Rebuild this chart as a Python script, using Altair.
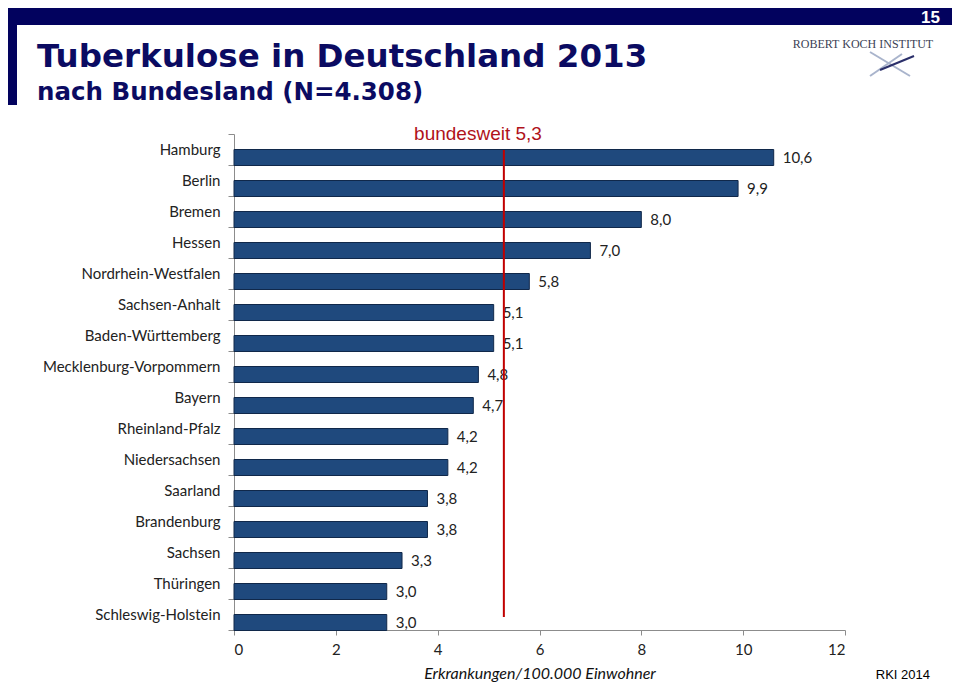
import altair as alt
import pandas as pd

laender = ["Hamburg", "Berlin", "Bremen", "Hessen", "Nordrhein-Westfalen", "Sachsen-Anhalt",
           "Baden-Württemberg", "Mecklenburg-Vorpommern", "Bayern", "Rheinland-Pfalz",
           "Niedersachsen", "Saarland", "Brandenburg", "Sachsen", "Thüringen", "Schleswig-Holstein"]
inzidenz = [10.6, 9.9, 8.0, 7.0, 5.8, 5.1, 5.1, 4.8, 4.7, 4.2, 4.2, 3.8, 3.8, 3.3, 3.0, 3.0]
bundesweit = 5.3
x_ticks = [0, 2, 4, 6, 8, 10, 12]

df = pd.DataFrame({"land": laender, "wert": inzidenz})
df["label"] = [f"{v:.1f}".replace(".", ",") for v in inzidenz]

W, H = 611, 496
FONT = "Lato"
NAVY = "#0b0b62"

y_enc = alt.Y("land:N", sort=None, title=None,
              scale=alt.Scale(paddingInner=0, paddingOuter=0),
              axis=alt.Axis(tickBand="extent", labelFont=FONT, labelFontSize=15,
                            labelColor="#222222", domainColor="#8c8c8c", tickColor="#8c8c8c",
                            tickSize=6, labelPadding=8, labelLimit=300))
x_enc = alt.X("wert:Q", title="Erkrankungen/100.000 Einwohner",
              scale=alt.Scale(domain=[0, 12], nice=False),
              axis=alt.Axis(values=x_ticks, grid=False, labelFont=FONT, labelFontSize=15,
                            labelColor="#222222", domainColor="#8c8c8c", tickColor="#8c8c8c",
                            tickSize=5, labelPadding=7, titleFont=FONT, titleFontSize=16,
                            titleFontStyle="italic", titleFontWeight="normal",
                            titleColor="#111111", titlePadding=8))

bars = alt.Chart(df).mark_bar(size=16, yOffset=8, color="#1f497d",
                              stroke="#10284a", strokeWidth=1).encode(x=x_enc, y=y_enc)

values = alt.Chart(df).mark_text(align="left", baseline="middle", dx=9, yOffset=8,
                                 font=FONT, fontSize=15, color="#222222").encode(
    x="wert:Q", y=alt.Y("land:N", sort=None), text="label:N")

ref_df = pd.DataFrame({"v": [bundesweit]})
ref_line = alt.Chart(ref_df).mark_rule(color="#c00000", strokeWidth=2).encode(
    x="v:Q", y=alt.value(16), y2=alt.value(483))

ref_text = alt.Chart(ref_df).mark_text(align="center", baseline="alphabetic",
                                       font="Liberation Sans", fontSize=19,
                                       color="#b0121b").encode(
    x=alt.value(244), y=alt.value(6), text=alt.value("bundesweit 5,3"))

# slide decoration
band = alt.Chart(ref_df).mark_rect(color="#02025e").encode(
    x=alt.value(-226), x2=alt.value(718), y=alt.value(-126), y2=alt.value(-109))
side = alt.Chart(ref_df).mark_rect(color="#02025e").encode(
    x=alt.value(-226), x2=alt.value(-217), y=alt.value(-126), y2=alt.value(-29))
page_no = alt.Chart(ref_df).mark_text(align="right", baseline="alphabetic", font="Liberation Sans",
                                      fontSize=17, fontWeight="bold", color="white").encode(
    x=alt.value(706), y=alt.value(-111), text=alt.value("15"))
title = alt.Chart(ref_df).mark_text(align="left", baseline="alphabetic", font="DejaVu Sans",
                                    fontSize=32.5, fontWeight="bold", color=NAVY).encode(
    x=alt.value(-197), y=alt.value(-67), text=alt.value("Tuberkulose in Deutschland 2013"))
subtitle = alt.Chart(ref_df).mark_text(align="left", baseline="alphabetic", font="DejaVu Sans",
                                       fontSize=24.5, fontWeight="bold", color=NAVY).encode(
    x=alt.value(-197), y=alt.value(-34), text=alt.value("nach Bundesland (N=4.308)"))
logo = alt.Chart(ref_df).mark_text(align="center", baseline="alphabetic", font="Liberation Serif",
                                   fontSize=12, color="#3c3f55").encode(
    x=alt.value(629), y=alt.value(-86), text=alt.value("ROBERT  KOCH  INSTITUT"))
fish1 = alt.Chart(ref_df).mark_rule(color="#a9b4cc", strokeWidth=2).encode(
    x=alt.value(636), x2=alt.value(676), y=alt.value(-82), y2=alt.value(-58))
fish2 = alt.Chart(ref_df).mark_rule(color="#a9b4cc", strokeWidth=2).encode(
    x=alt.value(636), x2=alt.value(668), y=alt.value(-58), y2=alt.value(-80))
fish3 = alt.Chart(ref_df).mark_rule(color="#2a2f6a", strokeWidth=2).encode(
    x=alt.value(646), x2=alt.value(680), y=alt.value(-64), y2=alt.value(-78))
source = alt.Chart(ref_df).mark_text(align="right", baseline="alphabetic", font="Liberation Sans",
                                     fontSize=13, color="#000000").encode(
    x=alt.value(696), y=alt.value(545), text=alt.value("RKI 2014"))

chart = alt.layer(bars, values, ref_line, ref_text, band, side, page_no, title, subtitle,
                  logo, fish1, fish2, fish3, source).properties(
    width=W, height=H,
    padding={"left": 226, "top": 126, "right": 107, "bottom": 53},
    autosize=alt.AutoSizeParams(type="none"),
    background="white",
).configure_view(strokeWidth=0)

chart.save("out.html", embed_options={"renderer": "svg", "actions": False})
